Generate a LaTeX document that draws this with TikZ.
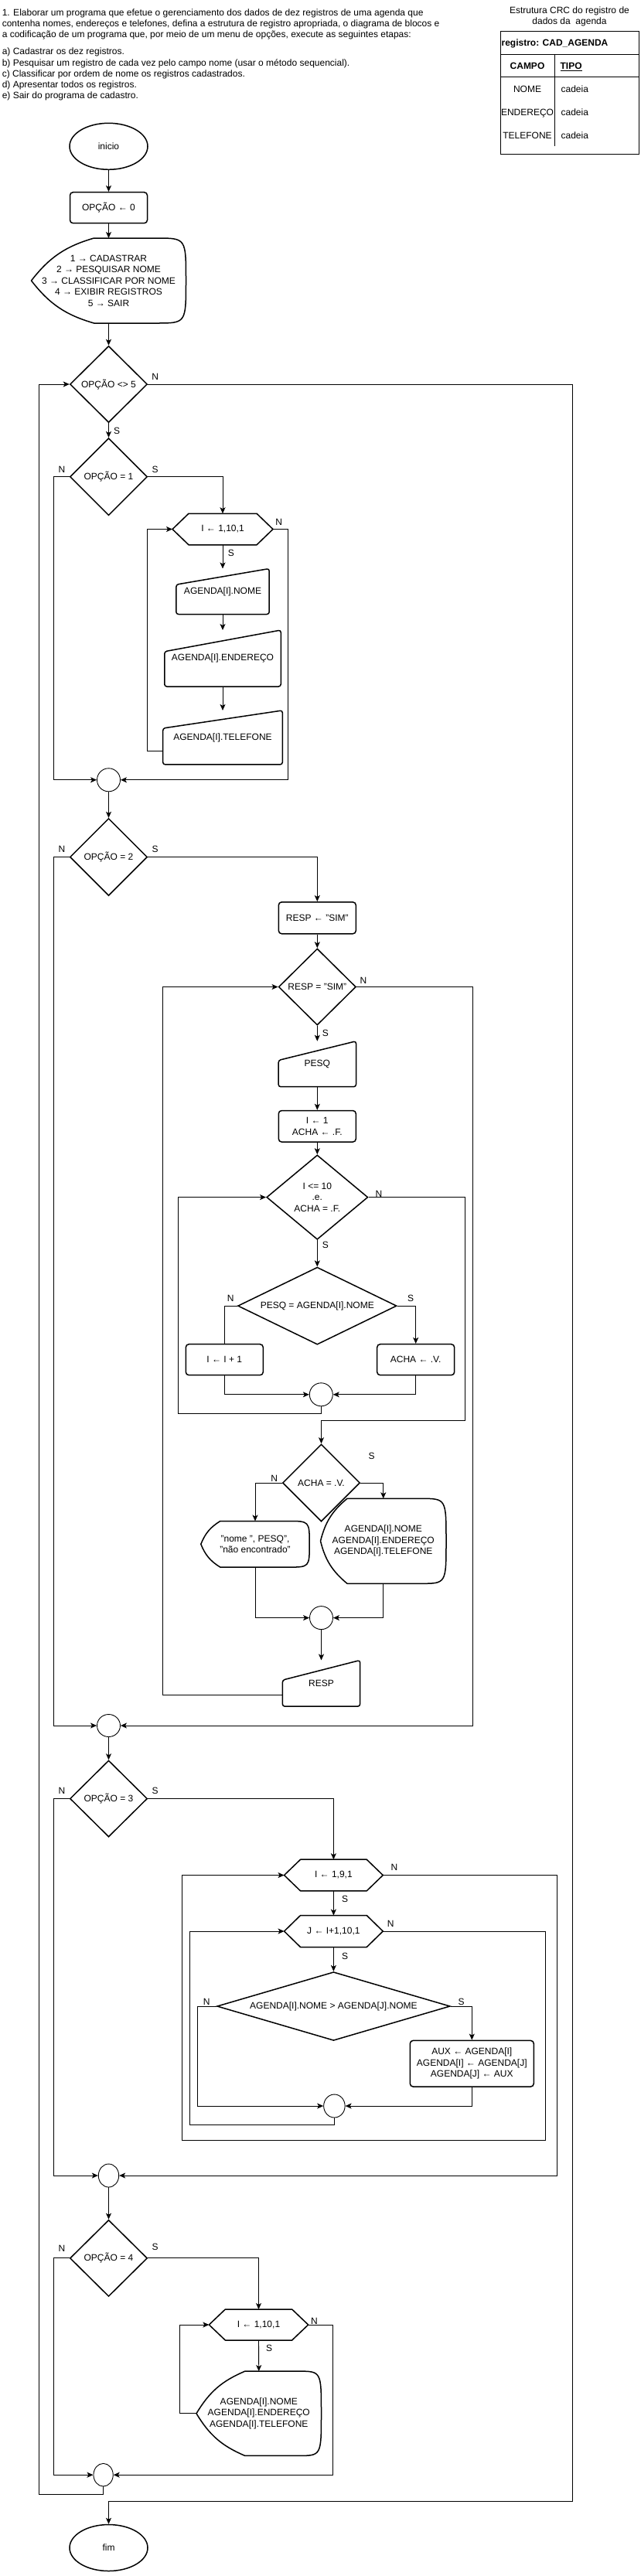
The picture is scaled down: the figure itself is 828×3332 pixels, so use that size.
\documentclass[tikz,border=0pt]{standalone}
\usepackage{fontspec}
\setmainfont{Liberation Sans}
\usetikzlibrary{shapes.geometric,arrows.meta,calc}
\newcommand\hexshape[2]{\draw[shp] (#1.west) -- ([xshift=#2pt]#1.north west) -- ([xshift=-#2pt]#1.north east) -- (#1.east) -- ([xshift=-#2pt]#1.south east) -- ([xshift=#2pt]#1.south west) -- cycle;}
\newcommand\manshape[2]{\draw[shp, rounded corners=3pt] (#1.south west) -- ($(#1.north west)!#2!(#1.south west)$) -- (#1.north east) -- (#1.south east) -- cycle;}
\newcommand\dispshape[3]{\draw[shp] (#1.west) to[bend left=18] ([xshift=#2pt]#1.north west) -- ([xshift=-#3pt]#1.north east) .. controls (#1.north east) .. (#1.east) .. controls (#1.south east) .. ([xshift=-#3pt]#1.south east) -- ([xshift=#2pt]#1.south west) to[bend left=18] (#1.west);}
\begin{document}
\begin{tikzpicture}[x=1pt,y=-1pt, font=\fontsize{12}{14.5}\selectfont,
 shp/.style={draw=black, line width=1.5pt, line join=round, line cap=round},
 term/.style={ellipse, draw, line width=1.5pt, minimum width=101pt, minimum height=60pt, inner sep=0pt},
 proc/.style={rectangle, rounded corners=4pt, draw, line width=1.5pt, minimum width=100pt, minimum height=40pt, inner sep=0pt, align=center},
 dec/.style={diamond, draw, line width=1.5pt, minimum width=100pt, minimum height=100pt, inner sep=0pt, align=center},
 conn/.style={draw, line width=0.9pt},
 arr/.style={conn, -{Stealth[length=8pt,width=7pt,inset=2pt]}},
 jn/.style={ellipse, draw, line width=0.9pt, minimum width=30pt, minimum height=30pt, inner sep=0pt},
 blank/.style={rectangle, inner sep=0pt, outer sep=0pt, align=center},
 lbl/.style={inner sep=0pt},
 txt/.style={inner sep=0pt, anchor=base west},
 ctxt/.style={inner sep=0pt, anchor=base}]
\fill[white] (0,0) rectangle (828,3332);
\useasboundingbox (0,0) rectangle (828,3332);
% statement
\node[txt] (t1) at (2.6,20.3) {1. Elaborar um programa que efetue o gerenciamento dos dados de dez registros de uma agenda que};
\node[txt] (t2) at (2.6,34.5) {contenha nomes, endereços e telefones, defina a estrutura de registro apropriada, o diagrama de blocos e};
\node[txt] (t3) at (2.6,48.7) {a codificação de um programa que, por meio de um menu de opções, execute as seguintes etapas:};
\node[txt] (t4) at (2.6,71) {a) Cadastrar os dez registros.};
\node[txt] (t5) at (2.6,85.2) {b) Pesquisar um registro de cada vez pelo campo nome (usar o método sequencial).};
\node[txt] (t6) at (2.6,99.4) {c) Classificar por ordem de nome os registros cadastrados.};
\node[txt] (t7) at (2.6,113.6) {d) Apresentar todos os registros.};
\node[txt] (t8) at (2.6,127.8) {e) Sair do programa de cadastro.};
% table
\node[ctxt] (th1) at (736.5,17.2) {Estrutura CRC do registro de};
\node[ctxt] (th2) at (736.5,32) {dados da~ agenda};
\draw[line width=1pt] (647.3,40.7) rectangle (826.8,199);
\draw[line width=1pt] (647.3,70.2) -- (826.8,70.2) (647.3,99.8) -- (826.8,99.8) (717,70.2) -- (717,189);
\node[txt] (treg) at (648.4,59.9) {\bfseries registro: CAD\_AGENDA};
\node[ctxt] (tc) at (682,89.5) {\bfseries CAMPO};
\node[ctxt] (tt) at (738.6,89.5) {\bfseries\underline{TIPO}};
\node[ctxt] (f1) at (682,119.5) {NOME};
\node[txt] (v1) at (725.4,119.5) {cadeia};
\node[ctxt] (f2) at (682,149.2) {ENDEREÇO};
\node[txt] (v2) at (725.4,149.2) {cadeia};
\node[ctxt] (f3) at (682,179.3) {TELEFONE};
\node[txt] (v3) at (725.4,179.3) {cadeia};
% flowchart nodes
\node[term] (ini) at (140.5,189.3) {inicio};
\node[proc] (op0) at (140.5,268.7) {OPÇÃO ← 0};
\node[blank, minimum width=200pt, minimum height=110pt] (menu) at (140.5,363) {1 → CADASTRAR\\2 → PESQUISAR NOME\\3 → CLASSIFICAR POR NOME\\4 → EXIBIR REGISTROS\\5 → SAIR};
\node[dec, minimum height=99pt] (d5) at (140.5,497) {OPÇÃO <> 5};
\node[dec] (d1) at (140.5,616.7) {OPÇÃO = 1};
\node[blank, minimum width=130pt, minimum height=40.5pt] (h1) at (288,684.5) {I ← 1,10,1};
\node[blank, minimum width=120.4pt, minimum height=59pt] (in1) at (288,765) {AGENDA[I].NOME};
\node[blank, minimum width=150.5pt, minimum height=73pt] (in2) at (288,851.5) {AGENDA[I].ENDEREÇO};
\node[blank, minimum width=154.7pt, minimum height=70pt] (in3) at (288,953.9) {AGENDA[I].TELEFONE};
\node[jn] (c1) at (140.5,1008.8) {};
\node[dec] (d2) at (140.5,1108.6) {OPÇÃO = 2};
\node[proc, minimum height=41pt] (resp0) at (410.3,1187.3) {RESP ← "SIM"};
\node[dec, minimum height=99pt] (dr) at (410.3,1276.5) {RESP = "SIM"};
\node[blank, minimum width=100.4pt, minimum height=59pt] (pesq) at (410.3,1376.2) {PESQ};
\node[proc, minimum height=40.6pt] (ia) at (410.3,1456.8) {I ← 1\\ACHA ← .F.};
\node[dec, minimum width=131pt, minimum height=109.3pt] (d10) at (410.3,1548.6) {I <= 10\\.e.\\ACHA = .F.};
\node[dec, minimum width=205.4pt, minimum height=100pt, shape aspect=2] (dp) at (410.3,1689.1) {PESQ = AGENDA[I].NOME};
\node[proc] (inc) at (290.3,1758.7) {I ← I + 1};
\node[proc] (av) at (537.7,1758.7) {ACHA ← .V.};
\node[jn] (c3) at (415.3,1803.8) {};
\node[dec] (da) at (415.5,1918) {ACHA = .V.};
\node[blank, minimum width=140.4pt, minimum height=59.6pt] (dn) at (330,1997.3) {"nome ", PESQ",\\"não encontrado"};
\node[blank, minimum width=162.5pt, minimum height=110pt] (dbig) at (495.75,1993.3) {AGENDA[I].NOME\\AGENDA[I].ENDEREÇO\\AGENDA[I].TELEFONE};
\node[jn] (c4) at (415.5,2092.6) {};
\node[blank, minimum width=100.3pt, minimum height=59.7pt] (rin) at (415.5,2177.3) {RESP};
\node[jn, minimum height=29pt] (c2) at (140.5,2232) {};
\node[dec, minimum height=99pt] (d3) at (140.5,2326.5) {OPÇÃO = 3};
\node[blank, minimum width=127.7pt, minimum height=40.6pt] (hi) at (431.4,2425.5) {I ← 1,9,1};
\node[blank, minimum width=127.7pt, minimum height=41pt] (hj) at (431.4,2498) {J ← I+1,10,1};
\node[dec, minimum width=301.5pt, minimum height=88.7pt, shape aspect=3.4] (db) at (431.4,2595) {AGENDA[I].NOME > AGENDA[J].NOME};
\node[proc, minimum width=160pt, minimum height=59.7pt] (aux) at (610.3,2669.2) {AUX ← AGENDA[I]\\AGENDA[I] ← AGENDA[J]\\AGENDA[J] ← AUX};
\node[jn, minimum width=27.5pt] (c7) at (432.4,2724) {};
\node[jn, minimum width=26.4pt] (c6) at (140.5,2814) {};
\node[dec, minimum height=99pt] (d4) at (140.5,2920.9) {OPÇÃO = 4};
\node[blank, minimum width=128.3pt, minimum height=40pt] (h4) at (334.5,3007) {I ← 1,10,1};
\node[blank, minimum width=161.5pt, minimum height=109.3pt] (disp4) at (334.75,3121.75) {AGENDA[I].NOME\\AGENDA[I].ENDEREÇO\\AGENDA[I].TELEFONE};
\node[jn, minimum width=25.3pt, minimum height=29.6pt] (c8) at (133.6,3201.2) {};
\node[term] (fim) at (140.5,3295.5) {fim};
% outlines of custom shapes
\hexshape{h1}{21}\hexshape{hi}{21}\hexshape{hj}{21}\hexshape{h4}{21}
\manshape{in1}{0.35}\manshape{in2}{0.38}\manshape{in3}{0.33}\manshape{pesq}{0.42}\manshape{rin}{0.43}
\dispshape{menu}{81}{38}\dispshape{dn}{25}{28}\dispshape{dbig}{34.5}{33}\dispshape{disp4}{62.8}{30}
% bend coordinates
\coordinate (oR) at (740.2,3235.5);
\coordinate (oL) at (50.7,3226);
\coordinate (k10) at (230.2,1828.6);
\coordinate (kr) at (210.7,2192.3);
\coordinate (kJr) at (705.4,2768.3);
\coordinate (kJl) at (235,2768.3);
\coordinate (k7) at (245.5,2748.2);
% connectors
\draw[arr] (ini.south) -- (op0.north);
\draw[arr] (op0.south) -- (menu.north);
\draw[arr] (menu.south) -- (d5.north);
\draw[arr] (d5.east) -| (oR) -| (fim.north);
\draw[arr] (d5.south) -- (d1.north);
\draw[arr] (d1.west) -- ++(-20,0) |- (c1.west);
\draw[arr] (d1.east) -| (h1.north);
\draw[arr] (h1.south) -- (in1.north);
\draw[arr] (in1.south) -- (in2.north);
\draw[arr] (in2.south) -- (in3.north);
\draw[arr] ($(in3.west)+(0,17.4)$) -- ++(-20,0) |- (h1.west);
\draw[arr] (h1.east) -- ++(19.6,0) |- (c1.east);
\draw[arr] (c1.south) -- (d2.north);
\draw[arr] (d2.west) -- ++(-20,0) |- (c2.west);
\draw[arr] (d2.east) -| (resp0.north);
\draw[arr] (resp0.south) -- (dr.north);
\draw[arr] (dr.east) -- ++(150,0) |- (c2.east);
\draw[arr] (dr.south) -- (pesq.north);
\draw[arr] (pesq.south) -- (ia.north);
\draw[arr] (ia.south) -- (d10.north);
\draw[arr] (d10.east) -- ++(124.6,0) |- ($(da.north)+(0,-30)$) -- (da.north);
\draw[arr] (d10.south) -- (dp.north);
\draw[conn] (dp.west) -| (inc.north);
\draw[arr] (dp.east) -| (av.north);
\draw[arr] (inc.south) |- (c3.west);
\draw[arr] (av.south) |- (c3.east);
\draw[arr] (c3.south) |- (k10) |- (d10.west);
\draw[arr] (da.west) -| (dn.north);
\draw[arr] (da.east) -| (dbig.north);
\draw[arr] (dn.south) |- (c4.west);
\draw[arr] (dbig.south) |- (c4.east);
\draw[arr] (c4.south) -- (rin.north);
\draw[arr] ($(rin.west)+(0,15)$) -- (kr) |- (dr.west);
\draw[arr] (c2.south) -- (d3.north);
\draw[arr] (d3.west) -- ++(-20,0) |- (c6.west);
\draw[arr] (d3.east) -| (hi.north);
\draw[arr] (hi.east) -- ++(225,0) |- (c6.east);
\draw[arr] (hi.south) -- (hj.north);
\draw[arr] (hj.east) -| (kJr) -- (kJl) |- (hi.west);
\draw[arr] (hj.south) -- (db.north);
\draw[arr] (db.west) -- ++(-24.3,0) |- (c7.west);
\draw[arr] (db.east) -| (aux.north);
\draw[arr] (aux.south) |- (c7.east);
\draw[arr] (c7.south) |- (k7) |- (hj.west);
\draw[arr] (c6.south) -- (d4.north);
\draw[arr] (d4.west) -- ++(-20,0) |- (c8.west);
\draw[arr] (d4.east) -| (h4.north);
\draw[arr] (h4.east) -- ++(31.7,0) |- (c8.east);
\draw[arr] (h4.south) -- (disp4.north);
\draw[arr] (disp4.west) -- ++(-21.2,0) |- (h4.west);
\draw[arr] (c8.south) |- (oL) |- (d5.west);
% branch labels
\node[lbl] (ln1) at (200.6,487.3) {N};
\node[lbl] (ls1) at (151,557) {S};
\node[lbl] (ln2) at (80,607) {N};
\node[lbl] (ls2) at (200.6,607) {S};
\node[lbl] (ln3) at (360.6,675.8) {N};
\node[lbl] (ls3) at (298.8,715.4) {S};
\node[lbl] (ln4) at (80,1098.6) {N};
\node[lbl] (ls4) at (200.6,1098.6) {S};
\node[lbl] (ln5) at (470,1268) {N};
\node[lbl] (ls5) at (420.8,1336.2) {S};
\node[lbl] (ln6) at (490,1544.7) {N};
\node[lbl] (ls6) at (420.8,1610.2) {S};
\node[lbl] (ln7) at (298.3,1679.2) {N};
\node[lbl] (ls7) at (531.2,1679.2) {S};
\node[lbl] (ls8) at (480.5,1883) {S};
\node[lbl] (ln8) at (354.8,1912.6) {N};
\node[lbl] (ln9) at (80,2316.5) {N};
\node[lbl] (ls9) at (200.6,2316.5) {S};
\node[lbl] (ln10) at (510,2415.7) {N};
\node[lbl] (ls10) at (446,2455.9) {S};
\node[lbl] (ln11) at (505.3,2488) {N};
\node[lbl] (ls11) at (446,2530.7) {S};
\node[lbl] (ln12) at (267.2,2589.8) {N};
\node[lbl] (ls12) at (596.6,2589.8) {S};
\node[lbl] (ln13) at (80,2908.2) {N};
\node[lbl] (ls13) at (200.6,2906) {S};
\node[lbl] (ln14) at (406.5,3002.2) {N};
\node[lbl] (ls14) at (348,3037) {S};
\end{tikzpicture}
\end{document}
